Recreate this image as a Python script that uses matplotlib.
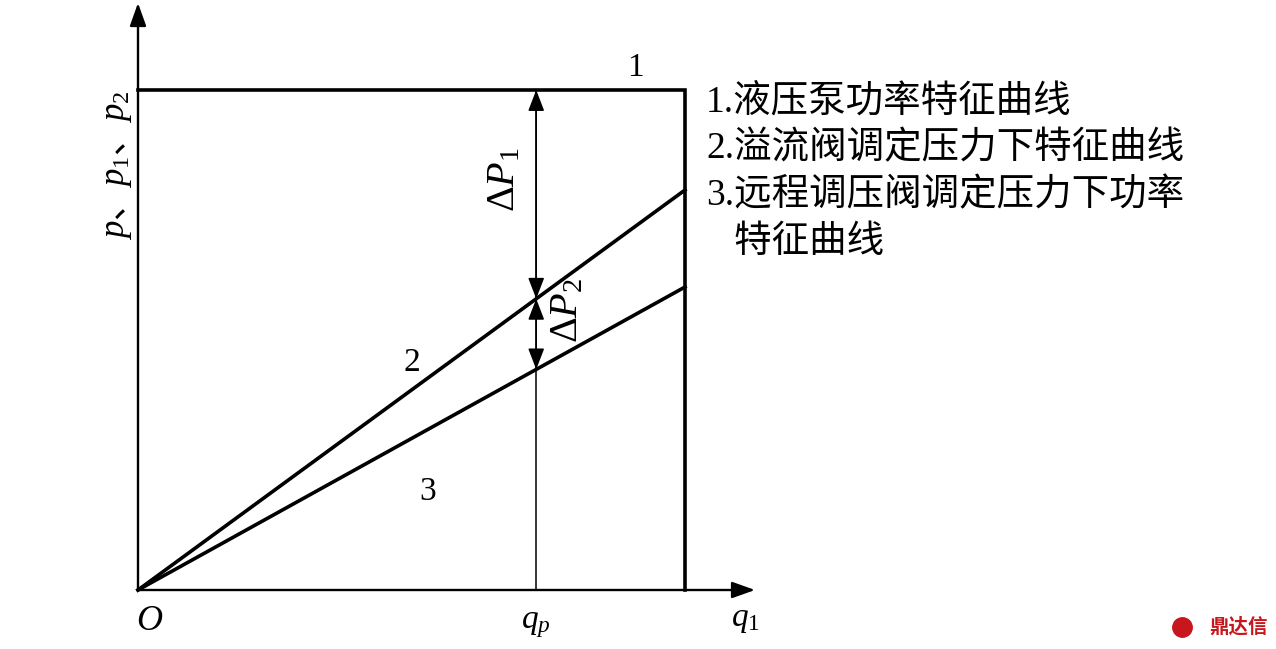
import matplotlib
matplotlib.use("Agg")
import matplotlib.pyplot as plt

plt.rcParams['mathtext.fontset'] = 'custom'
plt.rcParams['mathtext.rm'] = 'Liberation Serif'
plt.rcParams['mathtext.it'] = 'Liberation Serif:italic'
plt.rcParams['font.family'] = ['Liberation Serif', 'Noto Sans CJK SC', 'DejaVu Sans']

# ---- data (normalised units) ----
q_max = 1.0            # flow limit of pump (vertical line of curve 1)
p_max = 1.0            # pump pressure level (curve 1)
slope2 = 0.80          # curve 2 end pressure at q_max
slope3 = 0.606         # curve 3 end pressure at q_max
q_p = 0.728            # operating flow q_p
x_axis_end = 1.128
y_axis_end = 1.174
curve_labels = ['1', '2', '3']
legend_lines = ['1.液压泵功率特征曲线', '2.溢流阀调定压力下特征曲线',
                '3.远程调压阀调定压力下功率', '   特征曲线']

W, H = 1276, 649
ox, oy = 138, 590        # origin pixel
sx, sy = 547, 500        # pixels per unit

fig = plt.figure(figsize=(W / 100, H / 100), dpi=100)
ax = fig.add_axes([0, 0, 1, 1])
ax.set_xlim(-ox / sx, (W - ox) / sx)
ax.set_ylim(-(H - oy) / sy, oy / sy)
ax.axis('off')

# axes with arrows
ax.annotate('', xy=(x_axis_end, 0), xytext=(0, 0),
            arrowprops=dict(arrowstyle='-|>,head_length=1.4,head_width=0.5',
                            lw=1.7, color='black', shrinkA=0, shrinkB=0))
ax.annotate('', xy=(0, y_axis_end), xytext=(0, 0),
            arrowprops=dict(arrowstyle='-|>,head_length=1.4,head_width=0.5',
                            lw=1.7, color='black', shrinkA=0, shrinkB=0))

# curve 1
ax.plot([0, q_max, q_max], [p_max, p_max, 0], color='black', lw=2.6,
        solid_joinstyle='miter')
# curve 2, 3
ax.plot([0, q_max], [0, slope2 * q_max], color='black', lw=2.6)
ax.plot([0, q_max], [0, slope3 * q_max], color='black', lw=2.6)

# q_p vertical thin line
p2q = slope2 * q_p
p3q = slope3 * q_p
ax.plot([q_p, q_p], [0, p_max], color='black', lw=1.1)
for a, b in [(p_max, p2q), (p2q, p3q)]:
    ax.annotate('', xy=(q_p, b), xytext=(q_p, a),
                arrowprops=dict(arrowstyle='<|-|>,head_length=1.3,head_width=0.5',
                                lw=1.1, color='black', shrinkA=0, shrinkB=0))

fs = 24
ax.text(0.91, 1.045, curve_labels[0], fontsize=fs, ha='center', va='center')
ax.text(0.5, 0.455, curve_labels[1], fontsize=fs, ha='center', va='center')
ax.text(0.53, 0.196, curve_labels[2], fontsize=fs, ha='center', va='center')

ax.text(q_p - 0.058, 0.82, r'$\Delta\mathit{P}_1$', fontsize=29, rotation=90,
        ha='center', va='center')
ax.text(q_p + 0.058, 0.56, r'$\Delta\mathit{P}_2$', fontsize=29, rotation=90,
        ha='center', va='center')

ax.text(-0.04, 0.85, r'$p$、$p_1$、$p_2$', fontsize=fs + 1, rotation=90,
        ha='center', va='center', family='Noto Sans CJK SC')
ax.text(0.022, -0.064, r'$O$', fontsize=fs + 2, ha='center', va='center')
ax.text(q_p, -0.07, r'$q_p$', fontsize=fs, ha='center', va='center')
ax.text(1.11, -0.06, r'$q_1$', fontsize=fs, ha='center', va='center')

for i, t in enumerate(legend_lines):
    ax.text((706 - ox) / sx, (oy - 102 - i * 47) / sy, t, fontsize=27,
            ha='left', va='center',
            family=['Liberation Serif', 'Noto Sans CJK SC'])

ax.text((1268 - ox) / sx, (oy - 627) / sy, '鼎达信', fontsize=14,
        color='#c8161d', fontweight='bold', ha='right', va='center',
        family=['Noto Sans CJK SC'])
ax.plot([(1182 - ox) / sx], [(oy - 627) / sy], 'o', ms=14, color='#c8161d')

fig.savefig('out.png', dpi=100)
